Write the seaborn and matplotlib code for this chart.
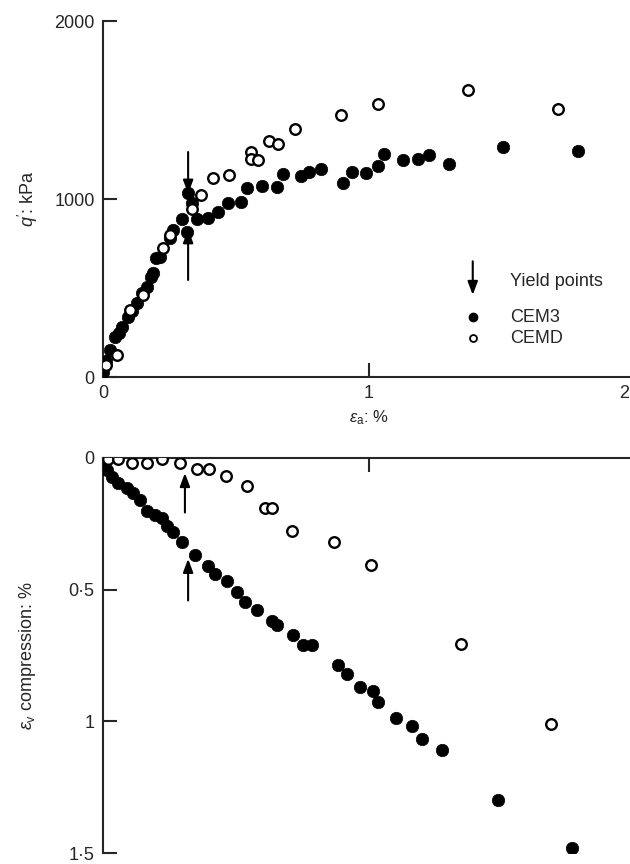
import matplotlib
matplotlib.use("Agg")
import matplotlib.pyplot as plt
import seaborn as sns
import pandas as pd

# ---- data ----
top_cem3_x = [0.0, 0.0, 0.01, 0.026, 0.045, 0.06, 0.071, 0.094, 0.11, 0.128, 0.145, 0.165, 0.18, 0.188,
              0.2, 0.214, 0.25, 0.263, 0.297, 0.315, 0.32, 0.335, 0.353, 0.395, 0.433, 0.47, 0.52, 0.54,
              0.597, 0.654, 0.676, 0.744, 0.775, 0.82, 0.902, 0.936, 0.989, 1.034, 1.057, 1.128, 1.184,
              1.226, 1.30, 1.504, 1.786]
top_cem3_q = [56, 30, 90, 152, 225, 250, 281, 337, 370, 416, 470, 506, 560, 584,
              669, 674, 780, 826, 888, 815, 1034, 978, 888, 893, 927, 978, 983, 1062,
              1073, 1067, 1140, 1129, 1152, 1169, 1090, 1152, 1146, 1185, 1253, 1219, 1225,
              1247, 1197, 1292, 1270]
top_cemd_x = [0.01, 0.053, 0.1, 0.15, 0.226, 0.252, 0.335, 0.368, 0.414, 0.474, 0.556, 0.556, 0.583,
              0.624, 0.657, 0.722, 0.894, 1.034, 1.372, 1.711]
top_cemd_q = [67, 124, 376, 461, 725, 798, 944, 1022, 1118, 1135, 1264, 1225, 1219,
              1326, 1309, 1393, 1472, 1533, 1612, 1506]

bot_cem3_x = [0.0, 0.0, 0.015, 0.034, 0.057, 0.09, 0.113, 0.139, 0.165, 0.195, 0.222, 0.24, 0.263,
              0.297, 0.346, 0.395, 0.421, 0.466, 0.504, 0.534, 0.579, 0.635, 0.654, 0.714, 0.752,
              0.786, 0.884, 0.917, 0.966, 1.015, 1.034, 1.10, 1.162, 1.2, 1.274, 1.485, 1.763]
bot_cem3_v = [0.0, 0.026, 0.045, 0.071, 0.094, 0.113, 0.132, 0.158, 0.203, 0.218, 0.226, 0.259, 0.282,
              0.32, 0.368, 0.41, 0.44, 0.466, 0.508, 0.545, 0.579, 0.62, 0.635, 0.673, 0.71,
              0.71, 0.785, 0.82, 0.868, 0.884, 0.925, 0.989, 1.019, 1.068, 1.109, 1.297, 1.481]
bot_cemd_x = [0.0, 0.02, 0.057, 0.108, 0.165, 0.22, 0.29, 0.355, 0.40, 0.462, 0.54, 0.61, 0.635,
              0.71, 0.87, 1.007, 1.346, 1.684]
bot_cemd_v = [0.0, 0.004, 0.004, 0.02, 0.02, 0.004, 0.02, 0.04, 0.04, 0.068, 0.108, 0.19, 0.19,
              0.277, 0.32, 0.406, 0.707, 1.01]

# yield-point arrows: (x, tail, head)
top_arrows = [(0.32, 1264, 1030), (0.32, 545, 830)]
bot_arrows = [(0.308, 0.207, 0.057), (0.32, 0.541, 0.383)]

top_yticks = [0, 1000, 2000]
top_xticks = [0, 1, 2]
bot_yticks = [0, 0.5, 1, 1.5]
bot_yticklabels = ["0", "0·5", "1", "1·5"]
legend_labels = ["Yield points", "CEM3", "CEMD"]

# ---- style ----
sns.set_style("ticks")
plt.rcParams["font.family"] = ["Liberation Sans", "DejaVu Sans"]
plt.rcParams["mathtext.fontset"] = "custom"
plt.rcParams["mathtext.rm"] = "Liberation Sans"
plt.rcParams["mathtext.it"] = "Liberation Sans:italic"

FS = 13
fig = plt.figure(figsize=(6.3, 8.64), dpi=100)
ax1 = fig.add_axes([103/630, 1-377/864, 532/630, 356/864])
ax2 = fig.add_axes([103/630, 1-853/864, 532/630, 395/864])

df_t3 = pd.DataFrame({"x": top_cem3_x, "y": top_cem3_q})
df_td = pd.DataFrame({"x": top_cemd_x, "y": top_cemd_q})
df_b3 = pd.DataFrame({"x": bot_cem3_x, "y": bot_cem3_v})
df_bd = pd.DataFrame({"x": bot_cemd_x, "y": bot_cemd_v})

filled_kw = dict(s=80, color="black", edgecolor="black", linewidth=0.5, legend=False, zorder=3)
open_kw = dict(s=58, facecolor="white", edgecolor="black", linewidth=1.7, legend=False, zorder=4)

sns.scatterplot(data=df_t3, x="x", y="y", ax=ax1, **filled_kw)
sns.scatterplot(data=df_td, x="x", y="y", ax=ax1, **open_kw)
sns.scatterplot(data=df_b3, x="x", y="y", ax=ax2, **filled_kw)
sns.scatterplot(data=df_bd, x="x", y="y", ax=ax2, **open_kw)

arrow_kw = dict(arrowstyle="-|>,head_length=0.8,head_width=0.3", color="black", lw=1.5, shrinkA=0, shrinkB=0)
for x, tail, head in top_arrows:
    ax1.annotate("", xy=(x, head), xytext=(x, tail), arrowprops=arrow_kw, zorder=5)
for x, tail, head in bot_arrows:
    ax2.annotate("", xy=(x, head), xytext=(x, tail), arrowprops=arrow_kw, zorder=5)

# legend drawn in data coordinates of top axes
ax1.annotate("", xy=(1.39, 461), xytext=(1.39, 650), arrowprops=arrow_kw)
ax1.text(1.53, 534, legend_labels[0], fontsize=FS, va="center", ha="left")
ax1.plot([1.39], [337], "o", color="black", ms=6)
ax1.text(1.53, 337, legend_labels[1], fontsize=FS, va="center", ha="left")
ax1.plot([1.39], [219], "o", mfc="white", mec="black", mew=1.3, ms=5)
ax1.text(1.53, 219, legend_labels[2], fontsize=FS, va="center", ha="left")

for ax in (ax1, ax2):
    ax.set_xlim(0, 2)
    for sp in ax.spines.values():
        sp.set_linewidth(1.5)
    ax.tick_params(direction="in", length=10, width=1.5, labelsize=FS, pad=6)

ax1.set_ylim(0, 2000)
ax1.set_yticks(top_yticks)
ax1.set_xticks(top_xticks)
xlabels = [str(t) for t in top_xticks]
ax1.set_xticklabels(xlabels[:-1] + [""])
# last tick label sits at the figure edge: draw it just inside
ax1.annotate(xlabels[-1], xy=(top_xticks[-1], 0), xycoords=("data", "axes fraction"),
             xytext=(-4.5, -6), textcoords="offset points", ha="right", va="top", fontsize=FS)
ax1.spines["top"].set_visible(False)
ax1.spines["right"].set_visible(False)
ax1.set_xlabel(r"$\varepsilon_{\rm a}$: %", fontsize=FS - 1, labelpad=4)
ax1.set_ylabel(r"$q'$: kPa", fontsize=FS, labelpad=10)

ax2.set_ylim(1.5, 0)
ax2.set_yticks(bot_yticks)
ax2.set_yticklabels(bot_yticklabels)
ax2.xaxis.tick_top()
ax2.set_xticks(top_xticks)
ax2.set_xticklabels([])
ax2.spines["bottom"].set_visible(False)
ax2.spines["right"].set_visible(False)
ax2.set_xlabel("")
ax2.set_ylabel(r"$\varepsilon_{\rm v}$ compression: %", fontsize=FS, labelpad=22)

fig.savefig("out.png", dpi=100)
